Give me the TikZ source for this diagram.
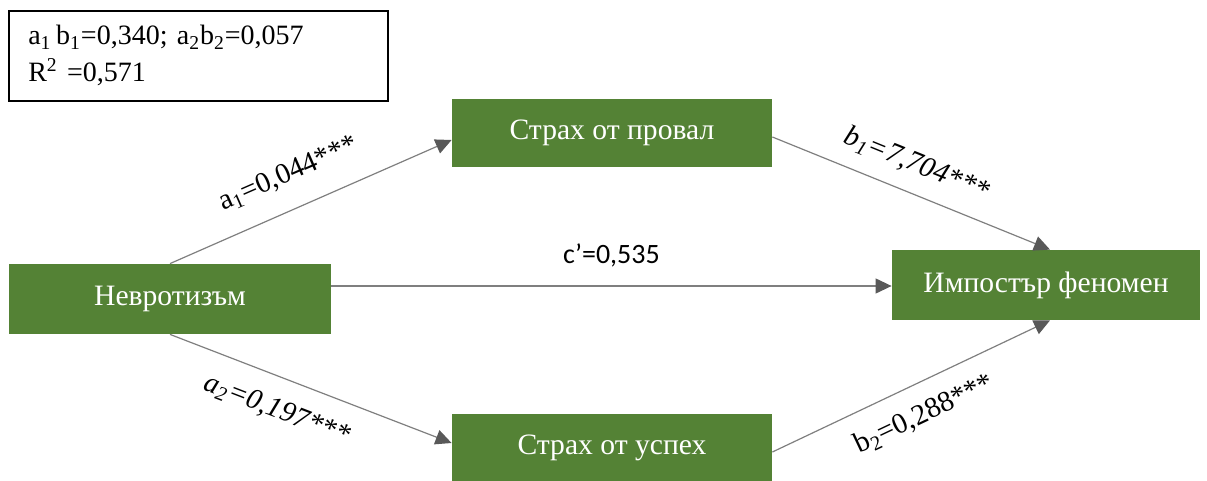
\documentclass[tikz,border=0pt]{standalone}
\usepackage{fontspec}
\setmainfont{Liberation Serif}
\newfontfamily\calfont{Carlito}
\usetikzlibrary{arrows.meta, positioning}

\definecolor{boxgreen}{HTML}{548235}
\definecolor{linegray}{HTML}{7F7F7F}
\definecolor{tipgray}{HTML}{595959}

\tikzset{
    var/.style={fill=boxgreen, text=white, inner sep=0pt, font=\fontsize{14.8}{17}\selectfont},
    path/.style={draw=linegray, line width=0.6pt, -{Triangle[length=8pt, width=7.5pt, fill=tipgray, color=tipgray]}},
    coef/.style={font=\fontsize{14.5}{16}\selectfont, sloped, inner sep=2pt}
}

\begin{document}
\begin{tikzpicture}[x=0.5pt, y=-0.5pt]
    \useasboundingbox (0,0) rectangle (1207,481);

    \node[draw, line width=0.8pt, minimum width=189.5pt, minimum height=45pt, align=left, inner sep=0pt, anchor=north west,
          font=\fontsize{14}{18.5}\selectfont, text width=170pt] (effects) at (8,10)
          {a\textsubscript{1}\,b\textsubscript{1}=0,340; a\textsubscript{2}b\textsubscript{2}=0,057\\R\textsuperscript{2} =0,571};

    \node[var, minimum width=161pt, minimum height=35pt] (neuro) at (170,299) {Невротизъм};
    \node[var, minimum width=160pt, minimum height=34pt] (fail) at (612,133) {Страх от провал};
    \node[var, minimum width=160pt, minimum height=34pt] (succ) at (612,448) {Страх от успех};
    \node[var, minimum width=154pt, minimum height=35pt] (imp) at (1046,285) {Импостър феномен};

    \draw[path] (neuro.north) -- (fail.west |- 0,140) node[coef, pos=0.47, above=9pt] {a\textsubscript{1}=0,044***};
    \draw[path] (neuro.south) -- (succ.west |- 0,443) node[coef, pos=0.42, below=8pt] {\itshape a\textsubscript{2}=0,197***};
    \draw[path] (neuro.east |- 0,286) -- (imp.west |- 0,286) node[midway, above=6pt, font=\calfont\fontsize{14}{16}\selectfont] {c’=0,535};
    \draw[path] (fail.east |- 0,137) -- (imp.north -| 1050,0) node[coef, pos=0.48, above=6pt] {\itshape b\textsubscript{1}=7,704***};
    \draw[path] (succ.east |- 0,452) -- (imp.south -| 1050,0) node[coef, midway, below=7pt] {b\textsubscript{2}=0,288***};
\end{tikzpicture}
\end{document}
